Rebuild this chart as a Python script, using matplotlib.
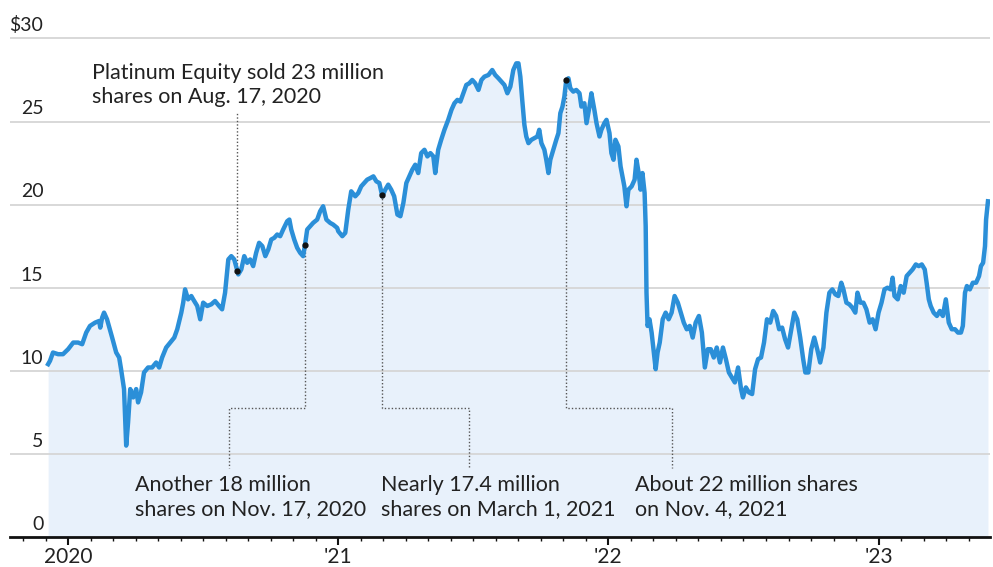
import numpy as np
import matplotlib.pyplot as plt
from matplotlib.ticker import FixedLocator, NullFormatter
import matplotlib.transforms as mtransforms

plt.rcParams['font.family'] = ['Lato', 'DejaVu Sans']

# --- share price, decimal years vs $ ---
years = [
    2019.926, 2019.933, 2019.944, 2019.963, 2019.981, 2020.000, 2020.019, 2020.037, 2020.052, 2020.067,
    2020.081, 2020.100, 2020.115, 2020.119, 2020.126, 2020.133, 2020.144, 2020.163, 2020.178, 2020.189,
    2020.196, 2020.207, 2020.215, 2020.222, 2020.230, 2020.241, 2020.252, 2020.259, 2020.270, 2020.281,
    2020.296, 2020.311, 2020.326, 2020.337, 2020.348, 2020.363, 2020.378, 2020.393, 2020.404, 2020.419,
    2020.426, 2020.433, 2020.444, 2020.456, 2020.463, 2020.478, 2020.489, 2020.500, 2020.515, 2020.530,
    2020.544, 2020.559, 2020.570, 2020.581, 2020.593, 2020.604, 2020.615, 2020.630, 2020.641, 2020.652,
    2020.663, 2020.674, 2020.685, 2020.696, 2020.707, 2020.719, 2020.730, 2020.741, 2020.752, 2020.763,
    2020.774, 2020.785, 2020.796, 2020.811, 2020.819, 2020.826, 2020.837, 2020.848, 2020.859, 2020.870,
    2020.878, 2020.885, 2020.896, 2020.907, 2020.922, 2020.933, 2020.944, 2020.956, 2020.970, 2020.981,
    2020.996, 2021.000, 2021.015, 2021.026, 2021.037, 2021.048, 2021.063, 2021.074, 2021.085, 2021.096,
    2021.107, 2021.119, 2021.130, 2021.141, 2021.152, 2021.163, 2021.174, 2021.185, 2021.196, 2021.207,
    2021.219, 2021.230, 2021.241, 2021.252, 2021.263, 2021.274, 2021.285, 2021.296, 2021.307, 2021.319,
    2021.330, 2021.341, 2021.352, 2021.359, 2021.370, 2021.381, 2021.393, 2021.407, 2021.419, 2021.430,
    2021.441, 2021.452, 2021.463, 2021.474, 2021.485, 2021.496, 2021.507, 2021.519, 2021.530, 2021.541,
    2021.556, 2021.570, 2021.581, 2021.593, 2021.604, 2021.615, 2021.626, 2021.637, 2021.648, 2021.659,
    2021.667, 2021.674, 2021.681, 2021.689, 2021.696, 2021.704, 2021.715, 2021.726, 2021.737, 2021.744,
    2021.752, 2021.763, 2021.770, 2021.778, 2021.785, 2021.796, 2021.807, 2021.815, 2021.822, 2021.830,
    2021.837, 2021.844, 2021.852, 2021.859, 2021.870, 2021.881, 2021.893, 2021.900, 2021.911, 2021.919,
    2021.930, 2021.937, 2021.948, 2021.956, 2021.967, 2021.974, 2021.985, 2021.993, 2022.004, 2022.011,
    2022.019, 2022.026, 2022.037, 2022.045, 2022.052, 2022.059, 2022.067, 2022.074, 2022.086, 2022.097,
    2022.104, 2022.112, 2022.119, 2022.126, 2022.134, 2022.138, 2022.141, 2022.145, 2022.152, 2022.160,
    2022.167, 2022.175, 2022.182, 2022.190, 2022.201, 2022.212, 2022.223, 2022.234, 2022.245, 2022.257,
    2022.268, 2022.279, 2022.290, 2022.301, 2022.312, 2022.323, 2022.335, 2022.346, 2022.357, 2022.368,
    2022.379, 2022.390, 2022.401, 2022.413, 2022.424, 2022.435, 2022.446, 2022.457, 2022.468, 2022.480,
    2022.491, 2022.498, 2022.509, 2022.520, 2022.532, 2022.543, 2022.554, 2022.565, 2022.576, 2022.587,
    2022.599, 2022.610, 2022.621, 2022.632, 2022.643, 2022.654, 2022.665, 2022.677, 2022.688, 2022.699,
    2022.710, 2022.721, 2022.729, 2022.740, 2022.751, 2022.762, 2022.773, 2022.784, 2022.796, 2022.807,
    2022.818, 2022.829, 2022.840, 2022.851, 2022.862, 2022.870, 2022.881, 2022.892, 2022.903, 2022.914,
    2022.922, 2022.933, 2022.944, 2022.955, 2022.967, 2022.978, 2022.989, 2023.000, 2023.011, 2023.022,
    2023.033, 2023.045, 2023.052, 2023.059, 2023.071, 2023.082, 2023.093, 2023.104, 2023.115, 2023.126,
    2023.138, 2023.149, 2023.160, 2023.171, 2023.178, 2023.186, 2023.193, 2023.204, 2023.216, 2023.227,
    2023.238, 2023.249, 2023.260, 2023.271, 2023.283, 2023.294, 2023.305, 2023.312, 2023.320, 2023.327,
    2023.338, 2023.349, 2023.361, 2023.372, 2023.379, 2023.387, 2023.394, 2023.398, 2023.405,
]
price = [
    10.4, 10.6, 11.1, 11.0, 11.0, 11.3, 11.7, 11.7, 11.6, 12.3,
    12.7, 12.9, 13.0, 12.6, 13.2, 13.5, 13.1, 12.0, 11.1, 10.8,
    10.1, 8.9, 5.5, 6.9, 8.9, 8.4, 8.9, 8.1, 8.7, 9.9,
    10.2, 10.2, 10.5, 10.2, 10.8, 11.4, 11.7, 12.0, 12.5, 13.5,
    14.1, 14.9, 14.3, 14.5, 14.3, 13.9, 13.1, 14.1, 13.9, 14.0,
    14.2, 13.9, 13.7, 14.7, 16.7, 16.9, 16.7, 15.8, 16.1, 16.9,
    16.5, 16.7, 16.3, 17.1, 17.7, 17.5, 16.9, 17.3, 17.9, 18.0,
    18.2, 18.1, 18.5, 19.0, 19.1, 18.5, 17.9, 17.4, 17.1, 16.9,
    17.7, 18.5, 18.7, 18.9, 19.1, 19.6, 19.9, 19.1, 18.9, 18.8,
    18.6, 18.4, 18.1, 18.3, 19.7, 20.8, 20.5, 20.7, 21.1, 21.3,
    21.5, 21.6, 21.7, 21.4, 21.3, 20.5, 20.9, 21.2, 20.9, 20.5,
    19.4, 19.3, 20.1, 21.3, 21.7, 22.1, 22.4, 21.9, 23.1, 23.3,
    22.9, 23.1, 22.9, 21.9, 23.3, 23.9, 24.5, 25.1, 25.7, 26.1,
    26.3, 26.2, 26.7, 27.2, 27.3, 27.5, 27.3, 26.9, 27.5, 27.7,
    27.8, 28.1, 27.8, 27.6, 27.4, 27.2, 26.7, 27.1, 28.1, 28.5,
    28.5, 27.7, 26.3, 24.8, 24.1, 23.7, 23.9, 24.0, 24.1, 24.5,
    23.7, 23.3, 22.7, 21.9, 22.7, 23.3, 23.9, 24.3, 25.5, 25.9,
    26.5, 27.5, 27.6, 27.0, 26.8, 26.9, 26.7, 25.9, 26.1, 24.9,
    25.9, 26.7, 25.7, 24.9, 24.1, 24.5, 24.9, 25.1, 24.3, 23.1,
    22.7, 23.9, 23.5, 22.3, 21.7, 21.1, 19.9, 20.9, 21.1, 21.5,
    22.7, 21.9, 20.9, 21.9, 20.7, 18.7, 14.7, 12.7, 13.1, 12.3,
    11.3, 10.1, 11.1, 11.7, 13.1, 13.5, 13.1, 13.5, 14.5, 14.1,
    13.5, 12.9, 12.5, 12.7, 12.0, 12.9, 13.3, 12.3, 10.2, 11.3,
    11.3, 10.8, 11.4, 10.5, 11.4, 10.7, 9.9, 9.6, 9.3, 10.2,
    8.9, 8.4, 9.0, 8.7, 8.6, 10.1, 10.7, 10.8, 11.7, 13.1,
    12.9, 13.6, 13.3, 12.5, 12.6, 11.9, 11.4, 12.5, 13.5, 13.1,
    12.0, 10.7, 9.9, 9.9, 11.3, 12.0, 11.3, 10.5, 11.4, 13.5,
    14.7, 14.9, 14.6, 14.5, 15.3, 14.9, 14.1, 14.0, 13.8, 13.5,
    14.7, 14.1, 14.1, 13.7, 12.9, 13.1, 12.5, 13.5, 14.1, 14.9,
    15.0, 14.9, 15.6, 14.5, 14.3, 15.1, 14.7, 15.7, 15.9, 16.1,
    16.4, 16.3, 16.4, 16.1, 15.3, 14.3, 13.9, 13.5, 13.3, 13.6,
    13.3, 14.3, 12.9, 12.5, 12.5, 12.3, 12.3, 12.7, 14.7, 15.1,
    14.9, 15.3, 15.3, 15.7, 16.3, 16.5, 17.5, 19.1, 20.2,
]

y_ticks = [0, 5, 10, 15, 20, 25, 30]
y_labels = ['0', '5', '10', '15', '20', '25', '$30']
x_ticks = [2020, 2021, 2022, 2023]
x_labels = ['2020', "'21", "'22", "'23"]

# sale dates (decimal years) and the notes
sale_dates = [2020.627, 2020.877, 2021.162, 2021.844]
notes = [
    "Platinum Equity sold 23 million\nshares on Aug. 17, 2020",
    "Another 18 million\nshares on Nov. 17, 2020",
    "Nearly 17.4 million\nshares on March 1, 2021",
    "About 22 million shares\non Nov. 4, 2021",
]

line_col = '#2b8fd8'
fill_col = '#e8f1fb'
text_col = '#222222'
dot_col = '#555555'
note_fs = 15.5

fig = plt.figure(figsize=(9.93, 5.67), dpi=100)
ax = fig.add_axes([0.0101, 0.0529, 0.987, 0.894])

ax.fill_between(years, price, 0, color=fill_col, lw=0, zorder=1)
for v in y_ticks[1:]:
    ax.axhline(v, color='#d6d6d6', lw=1.3, zorder=2)
ax.plot(years, price, color=line_col, lw=3.2, solid_joinstyle='round', zorder=4)

ax.set_xlim(2019.785, 2023.413)
ax.set_ylim(0, 30.5)

# y labels sit above their gridlines, right edge at about x=43px
trans = mtransforms.blended_transform_factory(ax.transAxes, ax.transData)
for v, lab in zip(y_ticks, y_labels):
    ax.annotate(lab, xy=(0.034, v), xycoords=trans, xytext=(0, 3), textcoords='offset points',
                ha='right', va='bottom', fontsize=14, color=text_col)

for s in ['top', 'right', 'left']:
    ax.spines[s].set_visible(False)
ax.spines['bottom'].set_linewidth(2)
ax.spines['bottom'].set_color('#111111')
ax.set_yticks([])
ax.xaxis.set_major_locator(FixedLocator(x_ticks))
ax.set_xticklabels(x_labels, fontsize=15, color=text_col)
months = [y + m / 12 for y in range(2019, 2024) for m in range(12)]
ax.xaxis.set_minor_locator(FixedLocator(months))
ax.xaxis.set_minor_formatter(NullFormatter())
ax.tick_params(axis='x', which='major', length=6, width=1.5, color='#111111', pad=1)
ax.tick_params(axis='x', which='minor', length=3, width=1, color='#111111')

# sale markers on the line
sale_prices = np.interp(sale_dates, years, price)
ax.plot(sale_dates, sale_prices, 'o', ms=3.5, color='#111111', zorder=5)

dot_kw = dict(color=dot_col, lw=1, ls=(0, (1, 1.5)), zorder=3)
# first note, above the line
ax.plot([sale_dates[0], sale_dates[0]], [sale_prices[0], 25.5], **dot_kw)
ax.text(2020.089, 28.55, notes[0], ha='left', va='top', fontsize=note_fs,
        color=text_col, linespacing=1.25)

# the other three, elbow lines down to the bottom notes
elbow_y = 7.76
end_y = 4.15
drops = [2020.596, 2021.485, 2022.234]
text_x = [2020.248, 2021.159, 2022.097]
for d, sp, xe, tx, note in zip(sale_dates[1:], sale_prices[1:], drops, text_x, notes[1:]):
    ax.plot([d, d, xe, xe], [sp, elbow_y, elbow_y, end_y], **dot_kw)
    ax.text(tx, 3.75, note, ha='left', va='top', fontsize=note_fs,
            color=text_col, linespacing=1.25)

fig.savefig('out.png', dpi=100)
